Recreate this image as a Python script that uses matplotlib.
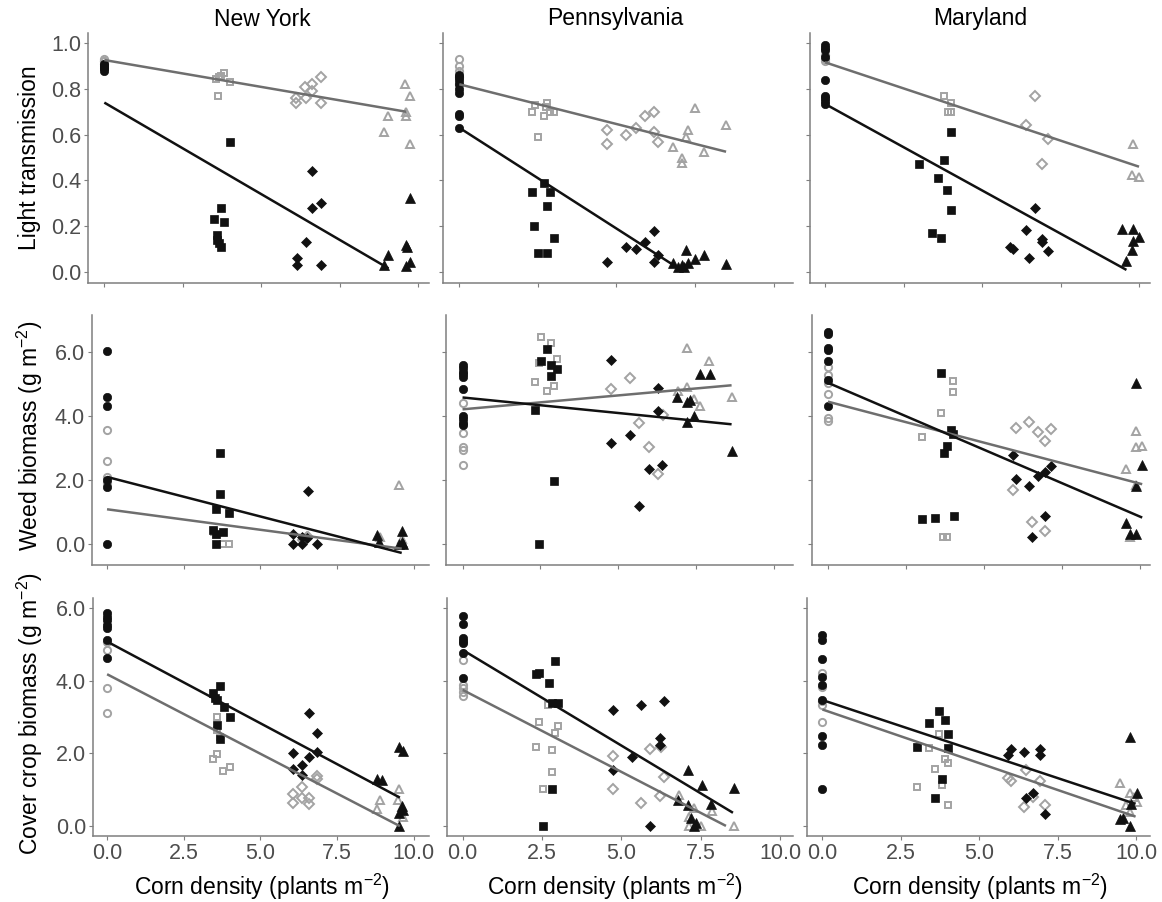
import matplotlib
matplotlib.use("Agg")
import matplotlib.pyplot as plt
import numpy as np

plt.rcParams['font.family'] = ['Liberation Sans', 'DejaVu Sans']
plt.rcParams['mathtext.fontset'] = 'custom'
plt.rcParams['mathtext.rm'] = 'Liberation Sans'
plt.rcParams['mathtext.it'] = 'Liberation Sans'

states = ["New York", "Pennsylvania", "Maryland"]
row_labels = ["Light transmission",
              r"Weed biomass (g m$^{-2}$)",
              r"Cover crop biomass (g m$^{-2}$)"]
x_label = r"Corn density (plants m$^{-2}$)"
x_ticks = [0.0, 2.5, 5.0, 7.5, 10.0]
y_ticks = [[0.0, 0.2, 0.4, 0.6, 0.8, 1.0], [0, 2, 4, 6], [0, 2, 4, 6]]

# points by corn density group: circle, square, diamond, triangle -> (x, y)
# ---- light transmission ----
light_ny_black = {
    'o': ([0, 0, 0, 0, 0, 0], [0.88, 0.89, 0.90, 0.91, 0.90, 0.89]),
    's': ([4.0, 3.72, 3.5, 3.8, 3.59, 3.6, 3.65, 3.72], [0.57, 0.28, 0.23, 0.22, 0.16, 0.14, 0.125, 0.11]),
    'D': ([6.61, 6.61, 6.91, 6.42, 6.14, 6.14, 6.91], [0.44, 0.28, 0.30, 0.13, 0.06, 0.03, 0.03]),
    '^': ([8.9, 9.02, 9.72, 9.62, 9.65, 9.72, 9.62], [0.03, 0.075, 0.325, 0.12, 0.11, 0.045, 0.025]),
}
light_ny_gray = {
    'o': ([0, 0, 0, 0], [0.93, 0.92, 0.92, 0.91]),
    's': ([3.61, 3.55, 3.72, 3.82, 4.01, 3.65], [0.77, 0.845, 0.855, 0.87, 0.83, 0.85]),
    'D': ([6.11, 6.11, 6.42, 6.4, 6.61, 6.61, 6.91, 6.91], [0.74, 0.76, 0.76, 0.81, 0.82, 0.79, 0.85, 0.74]),
    '^': ([9.59, 9.75, 9.02, 8.9, 9.62, 9.62, 9.72], [0.82, 0.77, 0.68, 0.61, 0.68, 0.70, 0.56]),
}
light_pa_black = {
    'o': ([0, 0, 0, 0, 0, 0, 0, 0, 0], [0.86, 0.85, 0.84, 0.82, 0.80, 0.78, 0.69, 0.68, 0.63]),
    's': ([2.3, 2.69, 2.9, 2.8, 2.38, 3.0, 2.49, 2.8], [0.35, 0.39, 0.35, 0.29, 0.20, 0.15, 0.085, 0.085]),
    'D': ([4.69, 5.3, 5.61, 5.91, 6.19, 6.31, 6.19], [0.045, 0.11, 0.10, 0.13, 0.18, 0.075, 0.045]),
    '^': ([6.79, 6.97, 7.1, 7.2, 7.29, 7.5, 7.8, 8.5, 7.15], [0.04, 0.02, 0.03, 0.095, 0.04, 0.055, 0.075, 0.035, 0.02]),
}
light_pa_gray = {
    'o': ([0, 0, 0, 0, 0], [0.93, 0.90, 0.88, 0.85, 0.82]),
    's': ([2.3, 2.4, 2.49, 2.69, 2.8, 2.9, 3.0, 2.75], [0.70, 0.73, 0.59, 0.68, 0.74, 0.70, 0.70, 0.72]),
    'D': ([4.69, 4.69, 5.3, 5.61, 5.91, 6.19, 6.19, 6.31], [0.62, 0.56, 0.60, 0.63, 0.68, 0.70, 0.61, 0.57]),
    '^': ([6.79, 7.1, 7.1, 7.2, 7.29, 7.5, 7.8, 8.5], [0.545, 0.50, 0.475, 0.59, 0.62, 0.715, 0.525, 0.64]),
}
light_md_black = {
    'o': ([0, 0, 0, 0, 0, 0, 0, 0, 0], [0.99, 0.98, 0.97, 0.94, 0.84, 0.77, 0.76, 0.745, 0.735]),
    's': ([4.0, 3.78, 3.0, 3.59, 3.89, 4.0, 3.4, 3.7], [0.61, 0.49, 0.47, 0.41, 0.36, 0.27, 0.17, 0.15]),
    'D': ([6.69, 6.41, 6.91, 6.91, 5.88, 5.98, 7.1, 6.49], [0.28, 0.183, 0.143, 0.132, 0.11, 0.10, 0.093, 0.063]),
    '^': ([9.47, 9.81, 10.0, 9.81, 9.79, 9.6], [0.186, 0.186, 0.154, 0.135, 0.096, 0.05]),
}
light_md_gray = {
    'o': ([0, 0, 0], [0.93, 0.92, 0.95]),
    's': ([3.8, 4.02, 3.91, 4.02], [0.77, 0.74, 0.70, 0.70]),
    'D': ([6.69, 6.41, 7.1, 6.91], [0.77, 0.64, 0.58, 0.47]),
    '^': ([9.81, 9.79, 10.0], [0.56, 0.424, 0.416]),
}

# ---- weed biomass ----
weed_ny_black = {
    'o': ([0, 0, 0, 0, 0, 0], [6.03, 4.6, 4.31, 2.0, 1.8, 0.0]),
    's': ([3.67, 3.67, 3.56, 3.97, 3.47, 3.77, 3.56, 3.56], [2.86, 1.58, 1.11, 0.96, 0.44, 0.39, 0.33, 0.0]),
    'D': ([6.54, 6.05, 6.35, 6.51, 6.05, 6.35, 6.84], [1.67, 0.33, 0.21, 0.18, 0.0, 0.0, 0.0]),
    '^': ([8.82, 9.61, 8.88, 9.61, 9.53, 9.66], [0.28, 0.42, 0.07, 0.07, 0.0, 0.0]),
}
weed_ny_gray = {
    'o': ([0, 0, 0, 0], [3.58, 2.6, 2.1, 1.9]),
    's': ([3.56, 3.78, 3.97, 3.5], [0.28, 0.0, 0.0, 0.39]),
    'D': ([6.51, 6.4, 6.56], [0.21, 0.12, 0.23]),
    '^': ([9.53, 9.61, 8.9], [1.84, 0.15, 0.23]),
}
weed_pa_black = {
    'o': ([0, 0, 0, 0, 0, 0, 0, 0, 0, 0], [5.59, 5.49, 5.39, 5.31, 5.21, 4.86, 4.0, 3.9, 3.79, 3.72]),
    's': ([2.72, 2.52, 2.83, 3.04, 2.83, 2.33, 2.94, 2.44], [6.09, 5.72, 5.59, 5.47, 5.25, 4.19, 1.97, 0.0]),
    'D': ([4.76, 6.28, 6.28, 4.76, 5.37, 5.98, 6.41, 5.67], [5.75, 4.89, 4.16, 3.17, 3.41, 2.36, 2.47, 1.2]),
    '^': ([7.62, 7.94, 6.89, 7.19, 7.3, 7.43, 7.19, 8.63], [5.31, 5.31, 4.6, 4.45, 4.5, 4.01, 3.8, 2.92]),
}
weed_pa_gray = {
    'o': ([0, 0, 0, 0, 0], [4.4, 3.48, 3.04, 2.94, 2.47]),
    's': ([2.52, 2.83, 2.44, 3.04, 2.33, 2.94, 2.72], [6.46, 6.27, 5.67, 5.77, 5.07, 4.94, 4.79]),
    'D': ([4.76, 5.37, 5.67, 5.98, 6.28, 6.44], [4.86, 5.18, 3.79, 3.04, 2.19, 4.03]),
    '^': ([7.19, 7.92, 7.21, 6.92, 7.41, 7.62, 8.63], [6.11, 5.73, 4.9, 4.79, 4.52, 4.31, 4.6]),
}
weed_md_black = {
    'o': ([0, 0, 0, 0, 0, 0, 0], [6.61, 6.55, 6.11, 6.06, 5.72, 5.13, 4.31]),
    's': ([3.61, 3.93, 4.0, 3.82, 3.72, 3.02, 3.42, 4.03], [5.35, 3.56, 3.44, 3.07, 2.85, 0.8, 0.83, 0.89]),
    'D': ([5.93, 6.04, 6.43, 6.73, 6.94, 7.14, 6.94, 6.54], [2.78, 2.05, 1.82, 2.14, 2.26, 2.45, 0.89, 0.23]),
    '^': ([9.86, 10.07, 9.86, 9.56, 9.67, 9.88], [5.04, 2.47, 1.82, 0.65, 0.33, 0.33]),
}
weed_md_gray = {
    'o': ([0, 0, 0, 0, 0, 0], [5.54, 5.28, 5.02, 4.68, 3.93, 3.85]),
    's': ([4.0, 4.0, 3.61, 3.02, 3.69, 3.82], [5.09, 4.76, 4.1, 3.35, 0.23, 0.23]),
    'D': ([6.04, 6.43, 6.73, 7.14, 6.94, 5.93, 6.54, 6.94], [3.64, 3.8, 3.49, 3.59, 3.23, 1.69, 0.68, 0.41]),
    '^': ([9.86, 9.86, 10.07, 9.56, 9.86, 9.67], [3.54, 3.04, 3.07, 2.34, 1.86, 0.23]),
}

# ---- cover crop biomass ----
cover_ny_black = {
    'o': ([0, 0, 0, 0, 0, 0, 0], [5.86, 5.77, 5.67, 5.54, 5.45, 5.12, 4.62]),
    's': ([3.69, 3.47, 3.58, 3.8, 4.0, 3.58, 3.69, 3.52], [3.87, 3.67, 3.47, 3.29, 3.01, 2.78, 2.39, 3.52]),
    'D': ([6.57, 6.86, 6.86, 6.05, 6.57, 6.35, 6.05, 6.35], [3.1, 2.55, 2.05, 2.0, 1.91, 1.68, 1.56, 1.4]),
    '^': ([9.53, 9.64, 8.82, 8.96, 9.61, 9.53, 9.64, 9.53], [2.19, 2.07, 1.29, 1.27, 0.55, 0.35, 0.44, 0.0]),
}
cover_ny_gray = {
    'o': ([0, 0, 0, 0], [5.08, 4.85, 3.79, 3.12]),
    's': ([3.58, 3.58, 3.69, 3.58, 3.47, 3.78, 4.0], [3.01, 2.64, 2.46, 1.98, 1.84, 1.52, 1.62]),
    'D': ([6.86, 6.86, 6.35, 6.05, 6.05, 6.35, 6.57, 6.57], [1.38, 1.29, 1.07, 0.88, 0.64, 0.76, 0.76, 0.62]),
    '^': ([9.53, 8.9, 8.82, 9.5, 9.66, 9.61], [1.02, 0.72, 0.46, 0.72, 0.26, 0.53]),
}
cover_pa_black = {
    'o': ([0, 0, 0, 0, 0, 0, 0], [5.79, 5.56, 5.17, 5.10, 5.03, 4.76, 4.07]),
    's': ([2.91, 2.32, 2.42, 2.72, 2.82, 3.01, 2.82, 2.53], [4.55, 4.19, 4.21, 3.93, 3.38, 3.38, 1.02, 0.0]),
    'D': ([4.72, 5.61, 6.33, 6.21, 6.21, 5.32, 4.72, 5.91], [3.2, 3.33, 3.45, 2.42, 2.23, 1.91, 1.54, 0.0]),
    '^': ([7.11, 7.53, 8.53, 6.79, 7.82, 7.11, 7.19, 7.29, 7.34], [1.54, 1.13, 1.04, 0.72, 0.62, 0.58, 0.21, 0.0, 0.07]),
}
cover_pa_gray = {
    'o': ([0, 0, 0, 0, 0], [4.57, 3.88, 3.79, 3.70, 3.58]),
    's': ([2.69, 2.4, 3.01, 2.91, 2.32, 2.82, 2.82, 2.53], [3.33, 2.87, 2.75, 2.55, 2.19, 2.08, 1.5, 1.02]),
    'D': ([4.72, 5.91, 6.25, 6.33, 4.72, 6.21, 5.61], [1.93, 2.12, 2.19, 1.34, 1.02, 0.83, 0.64]),
    '^': ([6.82, 7.29, 7.84, 7.14, 7.51, 8.53, 7.14], [0.85, 0.49, 0.42, 0.26, 0.0, 0.0, 0.0]),
}
cover_md_black = {
    'o': ([0, 0, 0, 0, 0, 0, 0, 0, 0], [5.26, 5.11, 4.59, 4.1, 3.88, 3.47, 2.49, 2.23, 1.02]),
    's': ([3.71, 3.39, 3.9, 4.0, 4.0, 3.0, 3.81, 3.6], [3.18, 2.85, 2.92, 2.53, 2.14, 2.19, 1.29, 0.78]),
    'D': ([5.91, 6.02, 6.41, 6.92, 6.92, 6.71, 6.49, 7.1], [1.96, 2.12, 2.05, 2.12, 1.96, 0.92, 0.78, 0.32]),
    '^': ([9.78, 10.02, 9.81, 9.57, 9.46, 9.78], [2.46, 0.92, 0.62, 0.21, 0.18, 0.0]),
}
cover_md_gray = {
    'o': ([0, 0, 0, 0, 0], [4.22, 3.82, 3.43, 3.33, 2.86]),
    's': ([3.71, 3.39, 3.9, 4.0, 3.6, 3.81, 3.0, 4.0], [2.53, 2.14, 1.85, 1.73, 1.57, 1.13, 1.08, 0.58]),
    'D': ([5.91, 6.02, 6.49, 6.92, 6.41, 7.1, 6.71], [1.31, 1.25, 1.54, 1.24, 0.51, 0.58, 0.81]),
    '^': ([9.49, 9.78, 9.92, 10.02, 9.67, 9.78], [1.19, 0.92, 0.81, 0.67, 0.58, 0.39]),
}

# fitted lines (intercept, slope, x end), rows x columns
fit_black = [[(0.74, -0.080, 9.05), (0.63, -0.088, 6.97), (0.734, -0.0755, 9.6)],
             [(2.10, -0.247, 9.61), (4.58, -0.097, 8.63), (5.04, -0.418, 10.07)],
             [(5.08, -0.450, 9.55), (4.85, -0.527, 8.51), (3.47, -0.287, 9.97)]]
fit_gray = [[(0.926, -0.0235, 9.62), (0.82, -0.0347, 8.49), (0.916, -0.0456, 10.0)],
            [(1.09, -0.128, 9.61), (4.21, 0.087, 8.63), (4.45, -0.256, 10.07)],
            [(4.18, -0.438, 9.55), (3.75, -0.452, 8.29), (3.21, -0.296, 9.97)]]

black_pts = [[light_ny_black, light_pa_black, light_md_black],
             [weed_ny_black, weed_pa_black, weed_md_black],
             [cover_ny_black, cover_pa_black, cover_md_black]]
gray_pts = [[light_ny_gray, light_pa_gray, light_md_gray],
            [weed_ny_gray, weed_pa_gray, weed_md_gray],
            [cover_ny_gray, cover_pa_gray, cover_md_gray]]

# ---- layout (pixels) ----
W, H = 1162, 902
# left, right, top, bottom in pixels
rects = [[(88, 429, 33, 283), (443, 793, 33, 283), (810, 1150, 33, 283)],
         [(92, 429, 315, 565), (446, 793, 315, 565), (812, 1150, 315, 565)],
         [(93, 429, 598, 836), (447, 793, 598, 836), (807, 1150, 598, 836)]]
xlims = [[(-0.52, 10.34), (-0.52, 10.62), (-0.48, 10.35)],
         [(-0.49, 10.50), (-0.53, 10.60), (-0.51, 10.32)],
         [(-0.46, 10.50), (-0.49, 10.40), (-0.49, 10.43)]]
ylims = [(-0.048, 1.044), (-0.65, 7.155), (-0.275, 6.28)]

BLACK = '#111111'
GRAY_PT = '#a3a3a3'
GRAY_LN = '#6e6e6e'
AXIS = '#7f7f7f'
TICKLAB = '#4d4d4d'

black_ms = {'o': 6.0, 's': 5.2, 'D': 4.6, '^': 6.6}
gray_ms = {'o': 5.2, 's': 4.8, 'D': 4.6, '^': 6.4}

fig = plt.figure(figsize=(W / 100, H / 100), dpi=100)

for r in range(3):
    for c in range(3):
        l, rt, t, b = rects[r][c]
        ax = fig.add_axes([l / W, 1 - b / H, (rt - l) / W, (b - t) / H])
        for m, (xs, ys) in gray_pts[r][c].items():
            ax.plot(xs, ys, linestyle='none', marker=m, ms=gray_ms[m],
                    mfc='none', mec=GRAY_PT, mew=1.4, zorder=2)
        for m, (xs, ys) in black_pts[r][c].items():
            ax.plot(xs, ys, linestyle='none', marker=m, ms=black_ms[m],
                    mfc=BLACK, mec=BLACK, mew=0.5, zorder=3)
        for fit, col in ((fit_gray[r][c], GRAY_LN), (fit_black[r][c], BLACK)):
            a, k, xe = fit
            xx = np.array([0.0, xe])
            ax.plot(xx, a + k * xx, color=col, lw=1.8, zorder=4,
                    solid_capstyle='butt')
        ax.set_xlim(*xlims[r][c])
        ax.set_ylim(*ylims[r])
        ax.set_xticks(x_ticks)
        ax.set_yticks(y_ticks[r])
        ax.xaxis.set_major_formatter(plt.FormatStrFormatter('%.1f'))
        ax.yaxis.set_major_formatter(plt.FormatStrFormatter('%.1f'))
        for side in ('top', 'right'):
            ax.spines[side].set_visible(False)
        for side in ('left', 'bottom'):
            ax.spines[side].set_color(AXIS)
            ax.spines[side].set_linewidth(1.1)
        ax.tick_params(axis='both', colors=AXIS, length=3, width=0.8,
                       labelcolor=TICKLAB, labelsize=15.5, pad=2)
        if c > 0:
            ax.tick_params(axis='y', labelleft=False)
        if r < 2:
            ax.tick_params(axis='x', labelbottom=False)

# facet titles and x labels
title_x = [262, 615, 980]
for c in range(3):
    fig.text(title_x[c] / W, 1 - 19 / H, states[c], ha='center', va='center',
             fontsize=16.5, color='black')
    fig.text(title_x[c] / W, 1 - 887 / H, x_label, ha='center', va='center',
             fontsize=16.5, color='black')

label_y = [158, 436, 714]
for r in range(3):
    fig.text(30 / W, 1 - label_y[r] / H, row_labels[r], ha='center', va='center',
             rotation=90, fontsize=16.5, color='black')

fig.savefig('out.png', dpi=100, facecolor='white')
